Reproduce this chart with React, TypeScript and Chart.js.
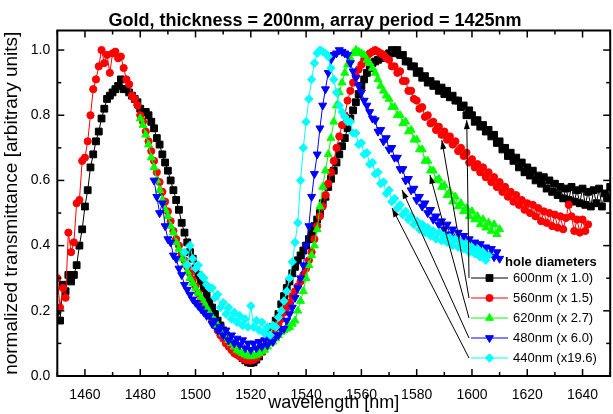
import React, { useEffect, useRef } from "react";
import { Chart, registerables } from "chart.js";
import { drawPoint } from "chart.js/helpers";

Chart.register(...registerables);

const TITLE = "Gold, thickness = 200nm, array period = 1425nm";
const X_LABEL = "wavelength [nm]";
const Y_LABEL = "normalized transmittance [arbitrary units]";
const LEGEND_TITLE = "hole diameters";

const X_MIN = 1450;
const X_MAX = 1650;
const Y_MIN = 0;
const Y_MAX = 1.06;
const X_MAJOR_TICKS = [1460, 1480, 1500, 1520, 1540, 1560, 1580, 1600, 1620, 1640];
const X_MINOR_TICKS = [1450, 1470, 1490, 1510, 1530, 1550, 1570, 1590, 1610, 1630, 1650];
const Y_MAJOR_TICKS = [0, 0.2, 0.4, 0.6, 0.8, 1.0];
const Y_MINOR_TICKS = [0.1, 0.3, 0.5, 0.7, 0.9];

// wavelength of first sample (1 nm sampling) and normalized transmittance values
const d600Start = 1450;
const d600 = [
  0.20, 0.17, 0.28, 0.26, 0.31, 0.29, 0.31, 0.34, 0.40, 0.45,
  0.52, 0.57, 0.64, 0.68, 0.72, 0.75, 0.79, 0.82, 0.85, 0.86,
  0.87, 0.88, 0.89, 0.91, 0.88, 0.88, 0.87, 0.86, 0.85, 0.84,
  0.82, 0.81, 0.81, 0.80, 0.78, 0.76, 0.73, 0.71, 0.68, 0.655,
  0.63, 0.60, 0.57, 0.54, 0.51, 0.47, 0.44, 0.41, 0.38, 0.36,
  0.33, 0.31, 0.29, 0.27, 0.25, 0.23, 0.21, 0.19, 0.17, 0.155,
  0.14, 0.125, 0.11, 0.10, 0.085, 0.075, 0.065, 0.055, 0.048, 0.042,
  0.04, 0.042, 0.05, 0.06, 0.075, 0.09, 0.105, 0.125, 0.15, 0.17,
  0.19, 0.22, 0.245, 0.27, 0.29, 0.315, 0.335, 0.355, 0.37, 0.385,
  0.40, 0.42, 0.44, 0.46, 0.48, 0.50, 0.53, 0.55, 0.58, 0.605,
  0.63, 0.655, 0.68, 0.705, 0.73, 0.76, 0.79, 0.815, 0.84, 0.865,
  0.89, 0.91, 0.93, 0.945, 0.96, 0.965, 0.97, 0.975, 0.98, 0.985,
  0.99, 1.00, 0.99, 1.00, 0.985, 0.985, 0.965, 0.965, 0.95, 0.95,
  0.93, 0.935, 0.915, 0.92, 0.90, 0.905, 0.89, 0.895, 0.875, 0.885,
  0.865, 0.875, 0.855, 0.86, 0.845, 0.845, 0.825, 0.83, 0.80, 0.815,
  0.80, 0.78, 0.785, 0.765, 0.77, 0.75, 0.755, 0.735, 0.74, 0.715,
  0.72, 0.695, 0.70, 0.675, 0.685, 0.66, 0.67, 0.64, 0.655, 0.625,
  0.64, 0.615, 0.63, 0.60, 0.615, 0.59, 0.61, 0.575, 0.60, 0.565,
  0.59, 0.555, 0.58, 0.545, 0.575, 0.54, 0.58, 0.535, 0.57, 0.53,
  0.575, 0.525, 0.565, 0.52, 0.57, 0.53, 0.575, 0.52, 0.56, 0.545, 0.58,
];

const d560Start = 1450;
const d560 = [
  0.30, 0.21, 0.27, 0.24, 0.44, 0.38, 0.41, 0.53, 0.54, 0.66,
  0.67, 0.72, 0.80, 0.88, 0.91, 0.95, 1.00, 0.96, 0.985, 0.93,
  0.99, 0.995, 0.975, 0.98, 0.945, 0.91, 0.895, 0.86, 0.85, 0.83,
  0.80, 0.78, 0.75, 0.72, 0.69, 0.66, 0.625, 0.595, 0.565, 0.535,
  0.505, 0.475, 0.445, 0.42, 0.40, 0.375, 0.355, 0.335, 0.315, 0.295,
  0.275, 0.255, 0.235, 0.22, 0.20, 0.185, 0.17, 0.155, 0.14, 0.125,
  0.115, 0.10, 0.09, 0.08, 0.07, 0.065, 0.06, 0.055, 0.05, 0.048,
  0.047, 0.05, 0.055, 0.065, 0.075, 0.09, 0.10, 0.115, 0.13, 0.145,
  0.16, 0.175, 0.195, 0.21, 0.225, 0.245, 0.26, 0.275, 0.29, 0.31,
  0.33, 0.355, 0.38, 0.42, 0.46, 0.49, 0.52, 0.555, 0.59, 0.625,
  0.66, 0.70, 0.735, 0.77, 0.80, 0.845, 0.875, 0.90, 0.92, 0.94,
  0.955, 0.97, 0.98, 0.99, 0.995, 1.00, 0.995, 0.99, 0.985, 0.975,
  0.97, 0.95, 0.95, 0.93, 0.935, 0.905, 0.905, 0.875, 0.875, 0.85,
  0.845, 0.82, 0.825, 0.795, 0.80, 0.775, 0.78, 0.755, 0.765, 0.74,
  0.75, 0.725, 0.735, 0.71, 0.72, 0.69, 0.70, 0.675, 0.685, 0.655,
  0.665, 0.64, 0.65, 0.625, 0.64, 0.61, 0.625, 0.595, 0.61, 0.58,
  0.595, 0.565, 0.58, 0.55, 0.565, 0.535, 0.555, 0.525, 0.54, 0.51,
  0.53, 0.50, 0.525, 0.49, 0.515, 0.475, 0.505, 0.47, 0.50, 0.46,
  0.495, 0.455, 0.49, 0.45, 0.485, 0.525, 0.49, 0.445, 0.48, 0.44,
  0.48, 0.445, 0.465,
];

const d620Start = 1480;
const d620 = [
  0.79, 0.77, 0.74, 0.71, 0.67, 0.64, 0.60, 0.57, 0.54, 0.51,
  0.49, 0.46, 0.44, 0.41, 0.39, 0.36, 0.34, 0.32, 0.30, 0.285,
  0.27, 0.255, 0.24, 0.225, 0.21, 0.195, 0.18, 0.17, 0.155, 0.145,
  0.13, 0.12, 0.11, 0.10, 0.09, 0.08, 0.075, 0.07, 0.065, 0.062,
  0.06, 0.062, 0.065, 0.07, 0.075, 0.08, 0.09, 0.10, 0.105, 0.115,
  0.125, 0.135, 0.14, 0.145, 0.15, 0.16, 0.17, 0.20, 0.23, 0.26,
  0.30, 0.34, 0.37, 0.40, 0.45, 0.52, 0.58, 0.63, 0.68, 0.73,
  0.78, 0.83, 0.87, 0.90, 0.93, 0.955, 0.975, 0.99, 1.00, 0.995,
  0.99, 0.985, 0.97, 0.96, 0.945, 0.93, 0.91, 0.89, 0.875, 0.86,
  0.85, 0.825, 0.825, 0.80, 0.80, 0.775, 0.78, 0.75, 0.755, 0.725,
  0.725, 0.695, 0.695, 0.66, 0.66, 0.63, 0.63, 0.60, 0.605, 0.58,
  0.585, 0.555, 0.565, 0.535, 0.55, 0.52, 0.53, 0.505, 0.515, 0.49,
  0.505, 0.48, 0.49, 0.465, 0.48, 0.455, 0.47, 0.445, 0.465, 0.435, 0.45,
];

const d480Start = 1485;
const d480 = [
  0.60, 0.55, 0.50, 0.53, 0.46, 0.42, 0.41, 0.37, 0.36, 0.33,
  0.31, 0.28, 0.265, 0.25, 0.235, 0.225, 0.215, 0.205, 0.195, 0.185,
  0.185, 0.16, 0.17, 0.14, 0.15, 0.125, 0.14, 0.11, 0.125, 0.10,
  0.115, 0.095, 0.11, 0.085, 0.10, 0.08, 0.10, 0.085, 0.105, 0.09,
  0.11, 0.095, 0.115, 0.105, 0.125, 0.125, 0.145, 0.145, 0.17, 0.19,
  0.21, 0.24, 0.27, 0.30, 0.34, 0.40, 0.46, 0.55, 0.62, 0.68,
  0.76, 0.83, 0.88, 0.93, 0.97, 0.985, 0.99, 1.00, 0.995, 0.99,
  0.985, 0.96, 0.935, 0.915, 0.89, 0.87, 0.845, 0.83, 0.81, 0.79,
  0.785, 0.75, 0.755, 0.72, 0.73, 0.695, 0.70, 0.67, 0.67, 0.635,
  0.635, 0.60, 0.605, 0.57, 0.575, 0.54, 0.55, 0.52, 0.53, 0.50,
  0.51, 0.48, 0.49, 0.465, 0.475, 0.45, 0.465, 0.435, 0.45, 0.425,
  0.44, 0.415, 0.43, 0.405, 0.42, 0.395, 0.41, 0.39, 0.405, 0.38,
  0.395, 0.375, 0.39, 0.365, 0.38, 0.36,
];

const d440Start = 1496;
const d440 = [
  0.38, 0.34, 0.40, 0.36, 0.33, 0.34, 0.31, 0.30, 0.28, 0.27,
  0.27, 0.24, 0.25, 0.21, 0.225, 0.19, 0.21, 0.175, 0.195, 0.165,
  0.185, 0.155, 0.175, 0.15, 0.215, 0.15, 0.17, 0.14, 0.165, 0.13,
  0.15, 0.125, 0.155, 0.15, 0.18, 0.20, 0.23, 0.26, 0.30, 0.35,
  0.41, 0.47, 0.60, 0.70, 0.78, 0.85, 0.91, 0.96, 0.99, 1.00,
  0.995, 0.99, 0.98, 0.945, 0.91, 0.87, 0.83, 0.81, 0.795, 0.78,
  0.78, 0.745, 0.745, 0.71, 0.715, 0.68, 0.685, 0.65, 0.655, 0.62,
  0.625, 0.59, 0.595, 0.56, 0.57, 0.535, 0.545, 0.515, 0.525, 0.495,
  0.505, 0.48, 0.49, 0.465, 0.475, 0.45, 0.465, 0.44, 0.455, 0.43,
  0.445, 0.42, 0.44, 0.415, 0.43, 0.41, 0.425, 0.40, 0.42, 0.395,
  0.41, 0.39, 0.405, 0.38, 0.395, 0.375, 0.39, 0.365, 0.38, 0.355, 0.37,
];

const seriesLabels = ["600nm (x 1.0)", "560nm (x 1.5)", "620nm (x 2.7)", "480nm (x 6.0)", "440nm (x19.6)"];
const seriesStarts = [d600Start, d560Start, d620Start, d480Start, d440Start];
const seriesValues = [d600, d560, d620, d480, d440];
const seriesColors = ["#000000", "#ff0000", "#00ff00", "#0000ff", "#00ffff"];
const seriesPointStyles = ["rect", "circle", "triangle", "triangle", "rectRot"];
const seriesPointRotation = [0, 0, 0, 180, 0];
const seriesPointRadius = [4.8, 3.6, 4.6, 4.6, 4.2];

// arrow tips (data coordinates) pointing from legend entries to curves
const arrowTipX = [1598.1, 1589.1, 1584.8, 1574.7, 1571.1];
const arrowTipY = [0.785, 0.724, 0.617, 0.571, 0.515];

const FONT = '"Liberation Sans", Arial, Helvetica, sans-serif';

const annotationPlugin = {
  id: "originStyle",
  afterDraw(chart: any) {
    const { ctx, chartArea: a, scales } = chart;
    const xs = scales.x;
    const ys = scales.y;
    ctx.save();

    // frame
    ctx.strokeStyle = "#000";
    ctx.lineWidth = 2;
    ctx.strokeRect(a.left, a.top, a.right - a.left, a.bottom - a.top);

    // inward ticks
    ctx.lineWidth = 1.5;
    const seg = (x1: number, y1: number, x2: number, y2: number) => {
      ctx.beginPath();
      ctx.moveTo(x1, y1);
      ctx.lineTo(x2, y2);
      ctx.stroke();
    };
    const xTick = (v: number, len: number) => {
      const px = xs.getPixelForValue(v);
      seg(px, a.bottom, px, a.bottom - len);
      seg(px, a.top, px, a.top + len);
    };
    const yTick = (v: number, len: number) => {
      const py = ys.getPixelForValue(v);
      seg(a.left, py, a.left + len, py);
      seg(a.right, py, a.right - len, py);
    };
    X_MAJOR_TICKS.forEach((v) => xTick(v, 7));
    X_MINOR_TICKS.forEach((v) => xTick(v, 4));
    Y_MAJOR_TICKS.forEach((v) => yTick(v, 7));
    Y_MINOR_TICKS.forEach((v) => yTick(v, 4));

    // title
    ctx.fillStyle = "#000";
    ctx.font = `bold 18px ${FONT}`;
    ctx.textAlign = "center";
    ctx.textBaseline = "alphabetic";
    ctx.fillText(TITLE, 315, 26);

    // legend
    const lineX0 = 471;
    const lineX1 = 508;
    const rowY0 = 278;
    const rowStep = 20;
    ctx.font = `bold 13px ${FONT}`;
    ctx.textAlign = "left";
    ctx.textBaseline = "middle";
    ctx.fillText(LEGEND_TITLE, 505, 262);
    ctx.font = `13px ${FONT}`;
    for (let i = 0; i < seriesLabels.length; i++) {
      const ry = rowY0 + i * rowStep;
      ctx.strokeStyle = seriesColors[i];
      ctx.fillStyle = seriesColors[i];
      ctx.lineWidth = 1;
      seg(lineX0, ry, lineX1, ry);
      drawPoint(
        ctx,
        {
          pointStyle: seriesPointStyles[i],
          rotation: seriesPointRotation[i],
          radius: seriesPointRadius[i],
          borderWidth: 1,
        } as any,
        (lineX0 + lineX1) / 2,
        ry
      );
      ctx.fillStyle = "#000";
      ctx.fillText(seriesLabels[i], 513, ry + 0.5);

      // arrow
      const tx = xs.getPixelForValue(arrowTipX[i]);
      const ty = ys.getPixelForValue(arrowTipY[i]);
      const sx = lineX0 - 2;
      const sy = ry;
      ctx.strokeStyle = "#000";
      ctx.fillStyle = "#000";
      ctx.lineWidth = 1;
      seg(sx, sy, tx, ty);
      const ang = Math.atan2(ty - sy, tx - sx);
      const L = 9;
      const W = 3;
      ctx.beginPath();
      ctx.moveTo(tx, ty);
      ctx.lineTo(tx - L * Math.cos(ang) + W * Math.sin(ang), ty - L * Math.sin(ang) - W * Math.cos(ang));
      ctx.lineTo(tx - L * Math.cos(ang) - W * Math.sin(ang), ty - L * Math.sin(ang) + W * Math.cos(ang));
      ctx.closePath();
      ctx.fill();
    }
    ctx.restore();
  },
};

export default function App() {
  const canvasRef = useRef<HTMLCanvasElement | null>(null);

  useEffect(() => {
    const canvas = canvasRef.current;
    if (!canvas) return;
    const datasets = seriesValues.map((vals, i) => ({
      label: seriesLabels[i],
      data: vals.map((v, k) => ({ x: seriesStarts[i] + k, y: v })),
      borderColor: seriesColors[i],
      backgroundColor: seriesColors[i],
      pointBackgroundColor: seriesColors[i],
      pointBorderColor: seriesColors[i],
      pointBorderWidth: 1,
      pointStyle: seriesPointStyles[i],
      pointRotation: seriesPointRotation[i],
      pointRadius: seriesPointRadius[i],
      borderWidth: 1,
      tension: 0,
      order: 5 - i,
    }));

    const chart = new Chart(canvas, {
      type: "line",
      data: { datasets } as any,
      options: {
        responsive: false,
        devicePixelRatio: 1,
        animation: false,
        layout: { padding: { top: 30.5, right: 2, left: 0, bottom: 0 } },
        plugins: {
          legend: { display: false },
          tooltip: { enabled: false },
          title: { display: false },
        },
        scales: {
          x: {
            type: "linear",
            min: X_MIN,
            max: X_MAX,
            border: { display: false },
            grid: { display: false, drawTicks: false },
            afterBuildTicks: (s: any) => {
              s.ticks = X_MAJOR_TICKS.map((v) => ({ value: v }));
            },
            ticks: {
              autoSkip: false,
              maxRotation: 0,
              padding: 11,
              color: "#000",
              font: { family: FONT, size: 14 },
              callback: (v: any) => String(v),
            },
            title: {
              display: true,
              text: X_LABEL,
              color: "#000",
              font: { family: FONT, size: 18 },
              padding: { top: 0, bottom: 0 },
            },
            afterFit: (s: any) => {
              s.height = 38;
              s.paddingLeft = 0;
              s.paddingRight = 0;
            },
          },
          y: {
            type: "linear",
            min: Y_MIN,
            max: Y_MAX,
            border: { display: false },
            grid: { display: false, drawTicks: false },
            afterBuildTicks: (s: any) => {
              s.ticks = Y_MAJOR_TICKS.map((v) => ({ value: v }));
            },
            ticks: {
              autoSkip: false,
              padding: 7,
              color: "#000",
              font: { family: FONT, size: 14 },
              callback: (v: any) => Number(v).toFixed(1),
            },
            title: {
              display: true,
              text: Y_LABEL,
              color: "#000",
              font: { family: FONT, size: 19 },
              padding: { top: 0, bottom: 0 },
            },
            afterFit: (s: any) => {
              s.width = 57.3;
              s.paddingTop = 0;
              s.paddingBottom = 0;
            },
          },
        },
      } as any,
      plugins: [annotationPlugin],
    });
    return () => chart.destroy();
  }, []);

  return (
    <div
      style={{
        position: "fixed",
        left: 0,
        top: 0,
        width: 613,
        height: 414,
        overflow: "hidden",
        background: "#fff",
      }}
    >
      <canvas ref={canvasRef} width={616} height={414} style={{ display: "block", width: 616, height: 414 }} />
    </div>
  );
}
